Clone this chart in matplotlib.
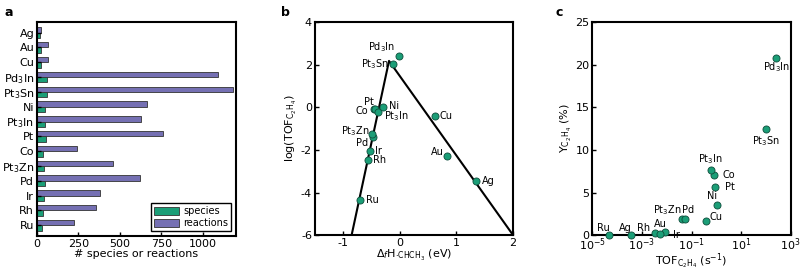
import numpy as np
import matplotlib
matplotlib.use('Agg')
import matplotlib.pyplot as plt
from matplotlib.ticker import NullLocator

plt.rcParams['font.family'] = 'DejaVu Sans'
plt.rcParams['axes.unicode_minus'] = False

# panel a: model sizes, listed bottom to top
metals = ['Ru', 'Rh', 'Ir', 'Pd', 'Pt$_3$Zn', 'Co', 'Pt', 'Pt$_3$In', 'Ni',
          'Pt$_3$Sn', 'Pd$_3$In', 'Cu', 'Au', 'Ag']
n_species = [32, 38, 40, 48, 42, 36, 52, 48, 50, 62, 58, 22, 22, 16]
n_reactions = [226, 357, 377, 623, 456, 240, 760, 627, 661, 1183, 1089, 65, 65, 26]

# panel b: volcano
names = ['Ru', 'Rh', 'Ir', 'Pd', 'Pt$_3$Zn', 'Co', 'Pt', 'Pt$_3$In', 'Ni',
         'Pt$_3$Sn', 'Pd$_3$In', 'Cu', 'Au', 'Ag']
dH = [-0.71, -0.565, -0.53, -0.47, -0.49, -0.46, -0.43, -0.39, -0.30,
      -0.12, -0.005, 0.62, 0.83, 1.35]
log_tof = [-4.33, -2.48, -2.06, -1.38, -1.28, -0.10, -0.07, -0.23, 0.03,
           2.02, 2.42, -0.41, -2.27, -3.44]
volcano_x = [-0.85, -0.19, 2.0]
volcano_y = [-6.0, 2.17, -6.0]

# panel c: selectivity vs TOF
y_c2h4 = [0.05, 0.22, 0.35, 1.85, 1.9, 7.0, 5.7, 7.65, 3.5,
          12.4, 20.8, 1.7, 0.15, 0.05]

# label offsets in pixels (dx, dy, ha)
lab_b = {'Ru': (6, 0, 'left'), 'Rh': (5, 0, 'left'), 'Ir': (5, 0, 'left'),
         'Pd': (-5, -6, 'right'), 'Pt$_3$Zn': (-3, 3, 'right'),
         'Co': (-6, -2, 'right'), 'Pt': (-2, 7, 'right'),
         'Pt$_3$In': (6, -4, 'left'), 'Ni': (6, 1, 'left'),
         'Pt$_3$Sn': (-4, 0, 'right'), 'Pd$_3$In': (-4, 8, 'right'),
         'Cu': (5, 0, 'left'), 'Au': (-3, 4, 'right'), 'Ag': (6, 0, 'left')}
lab_c = {'Ru': (-6, 7, 'center'), 'Rh': (-11, 5, 'center'), 'Ir': (11, -3, 'center'),
         'Pd': (6, 9, 'center'), 'Pt$_3$Zn': (-17, 9, 'center'),
         'Co': (9, 0, 'left'), 'Pt': (10, 0, 'left'),
         'Pt$_3$In': (0, 11, 'center'), 'Ni': (-5, 9, 'center'),
         'Pt$_3$Sn': (0, -12, 'center'), 'Pd$_3$In': (0, -9, 'center'),
         'Cu': (3, 4, 'left'), 'Au': (0, 10, 'center'), 'Ag': (-6, 7, 'center')}

green = '#1b9e77'
purple = '#7570b3'
edge = '#0e4d3b'

fig = plt.figure(figsize=(8.03, 2.70), dpi=100)
ax1 = fig.add_axes([0.046, 0.126, 0.248, 0.793])
ax2 = fig.add_axes([0.392, 0.129, 0.247, 0.790])
ax3 = fig.add_axes([0.7376, 0.129, 0.2471, 0.790])

# a
y = np.arange(len(metals))
h = 0.36
ax1.barh(y - h / 2, n_species, height=h, color=green, edgecolor='#333333', lw=0.6, label='species')
ax1.barh(y + h / 2, n_reactions, height=h, color=purple, edgecolor='#333333', lw=0.6, label='reactions')
ax1.set_yticks(y)
ax1.set_yticklabels(metals)
ax1.set_ylim(-0.72, len(metals) - 1 + 0.72)
ax1.set_xlim(0, 1200)
ax1.set_xticks([0, 250, 500, 750, 1000])
ax1.set_xlabel('# species or reactions', fontsize=8, labelpad=0)
ax1.legend(loc='lower right', fontsize=7, fancybox=False, edgecolor='k',
           handlelength=2.6, handleheight=0.8, borderpad=0.3, labelspacing=0.2,
           handletextpad=0.4, borderaxespad=0.5, framealpha=1)

# b
ax2.plot(volcano_x, volcano_y, color='k', lw=1.5, zorder=2)
ax2.scatter(dH, log_tof, s=26, color=green, edgecolors=edge, lw=0.6, zorder=3)
for n, xx, yy in zip(names, dH, log_tof):
    dx, dy, ha = lab_b[n]
    ax2.annotate(n, (xx, yy), xytext=(dx, dy), textcoords='offset pixels',
                 ha=ha, va='center', fontsize=7)
ax2.set_xlim(-1.5, 2)
ax2.set_ylim(-6, 4)
ax2.set_xticks([-1, 0, 1, 2])
ax2.set_yticks([-6, -4, -2, 0, 2, 4])
ax2.set_xlabel(r'$\Delta_f$H$_{\cdot\mathrm{CHCH_3}}$ (eV)', fontsize=8, labelpad=0)
ax2.set_ylabel(r'log(TOF$_{\mathrm{C_2H_4}}$)', fontsize=8, labelpad=1)

# c
tof = 10 ** np.array(log_tof)
ax3.scatter(tof, y_c2h4, s=26, color=green, edgecolors=edge, lw=0.6, zorder=3, clip_on=False)
for n, xx, yy in zip(names, tof, y_c2h4):
    dx, dy, ha = lab_c[n]
    ax3.annotate(n, (xx, yy), xytext=(dx, dy), textcoords='offset pixels',
                 ha=ha, va='center', fontsize=7)
ax3.set_xscale('log')
ax3.set_xlim(1e-5, 1e3)
ax3.set_ylim(0, 25)
ax3.set_xticks([1e-5, 1e-3, 1e-1, 1e1, 1e3])
ax3.xaxis.set_minor_locator(NullLocator())
ax3.set_yticks([0, 5, 10, 15, 20, 25])
ax3.set_xlabel(r'TOF$_{\mathrm{C_2H_4}}$ (s$^{-1}$)', fontsize=8, labelpad=-1)
ax3.set_ylabel(r'Y$_{\mathrm{C_2H_4}}$ (%)', fontsize=8, labelpad=1)

for ax in (ax1, ax2, ax3):
    ax.tick_params(direction='in', labelsize=8, length=3, width=1, pad=2)
    for s in ax.spines.values():
        s.set_linewidth(1.5)
ax3.tick_params(axis='x', pad=1)

fig.text(0.006, 0.955, 'a', fontsize=9, fontweight='bold', va='center')
fig.text(0.350, 0.955, 'b', fontsize=9, fontweight='bold', va='center')
fig.text(0.692, 0.955, 'c', fontsize=9, fontweight='bold', va='center')

fig.savefig('out.png', dpi=100)
